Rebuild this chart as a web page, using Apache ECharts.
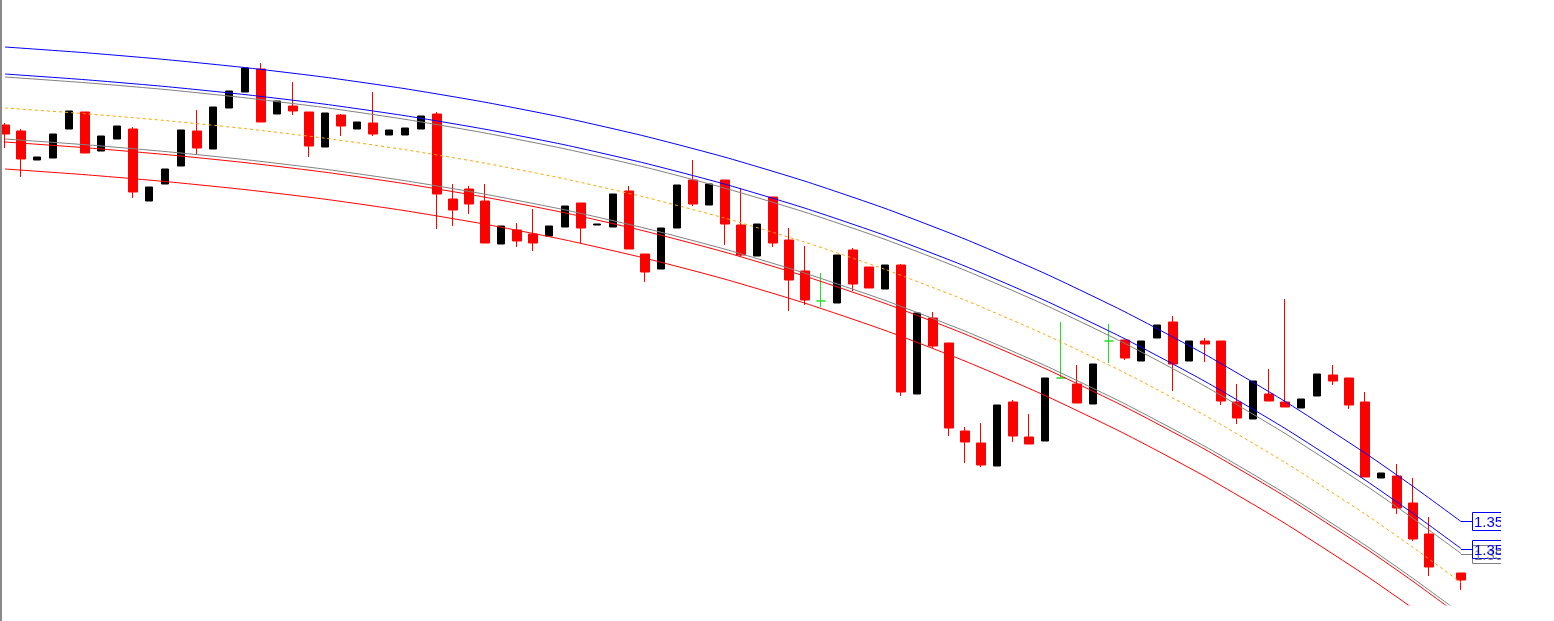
<!DOCTYPE html>
<html><head><meta charset="utf-8">
<script src="https://cdn.jsdelivr.net/npm/echarts@6/dist/echarts.min.js"></script>
<style>html,body{margin:0;padding:0;background:#fff}#c{width:1554px;height:621px}</style>
</head><body><div id="c"></div><script>
// Candle values (bar index 90 has no bar)
const opens = [1.3946,1.3940,1.3911,1.3913,1.3942,1.3959,1.3920,1.3932,1.3942,1.3870,
1.3887,1.3905,1.3940,1.3922,1.3963,1.3979,1.4002,1.3957,1.3965,1.3959,
1.3924,1.3956,1.3942,1.3948,1.3936,1.3936,1.3942,1.3957,1.3872,1.3882,
1.3870,1.3827,1.3841,1.3837,1.3835,1.3844,1.3868,1.3846,1.3844,1.3880,
1.3817,1.3802,1.3843,1.3891,1.3866,1.3891,1.3846,1.3815,1.3874,1.3831,
1.3800,1.3770,1.3768,1.3821,1.3804,1.3782,1.3806,1.3677,1.3753,1.3728,
1.3640,1.3628,1.3605,1.3669,1.3634,1.3630,1.3693,1.3687,1.3667,1.3730,
1.3731,1.3710,1.3733,1.3749,1.3710,1.3730,1.3730,1.3669,1.3652,1.3677,
1.3669,1.3663,1.3675,1.3696,1.3693,1.3669,1.3593,1.3595,1.3568,1.3537,
null,1.3498];
const closes = [1.3937,1.3912,1.3914,1.3937,1.3960,1.3918,1.3935,1.3945,1.3879,1.3884,
1.3902,1.3941,1.3923,1.3964,1.3980,1.4003,1.3949,1.3970,1.3960,1.3925,
1.3958,1.3945,1.3949,1.3937,1.3941,1.3943,1.3955,1.3877,1.3861,1.3867,
1.3828,1.3845,1.3830,1.3828,1.3845,1.3865,1.3843,1.3847,1.3877,1.3822,
1.3799,1.3843,1.3886,1.3867,1.3887,1.3847,1.3816,1.3847,1.3828,1.3791,
1.3771,1.3770,1.3816,1.3787,1.3783,1.3806,1.3679,1.3758,1.3725,1.3643,
1.3629,1.3606,1.3666,1.3635,1.3627,1.3693,1.3693,1.3668,1.3707,1.3730,
1.3713,1.3730,1.3746,1.3707,1.3730,1.3727,1.3670,1.3653,1.3690,1.3670,
1.3664,1.3672,1.3697,1.3690,1.3666,1.3594,1.3598,1.3563,1.3532,1.3504,
null,1.3491];
const lows = [1.3923,1.3894,1.3911,1.3913,1.3942,1.3918,1.3920,1.3932,1.3873,1.3870,
1.3887,1.3905,1.3917,1.3922,1.3963,1.3979,1.3949,1.3957,1.3956,1.3914,
1.3924,1.3935,1.3942,1.3935,1.3936,1.3936,1.3942,1.3842,1.3845,1.3857,
1.3828,1.3827,1.3824,1.3820,1.3835,1.3844,1.3828,1.3846,1.3844,1.3822,
1.3789,1.3802,1.3843,1.3865,1.3866,1.3826,1.3814,1.3815,1.3824,1.3760,
1.3766,1.3764,1.3768,1.3780,1.3783,1.3782,1.3675,1.3677,1.3723,1.3635,
1.3608,1.3604,1.3605,1.3629,1.3627,1.3630,1.3693,1.3668,1.3667,1.3708,
1.3711,1.3710,1.3733,1.3680,1.3710,1.3709,1.3666,1.3647,1.3652,1.3670,
1.3664,1.3663,1.3675,1.3686,1.3662,1.3594,1.3593,1.3557,1.3530,1.3495,
null,1.3481];
const highs = [1.3948,1.3942,1.3914,1.3937,1.3960,1.3959,1.3935,1.3945,1.3944,1.3884,
1.3902,1.3941,1.3961,1.3964,1.3980,1.4003,1.4008,1.3970,1.3989,1.3959,
1.3958,1.3957,1.3949,1.3979,1.3941,1.3943,1.3955,1.3959,1.3887,1.3885,
1.3887,1.3845,1.3848,1.3862,1.3845,1.3865,1.3868,1.3847,1.3877,1.3885,
1.3817,1.3843,1.3886,1.3911,1.3887,1.3891,1.3883,1.3847,1.3874,1.3843,
1.3825,1.3798,1.3816,1.3823,1.3804,1.3806,1.3807,1.3758,1.3759,1.3728,
1.3644,1.3648,1.3666,1.3671,1.3657,1.3693,1.3749,1.3706,1.3707,1.3747,
1.3731,1.3730,1.3746,1.3755,1.3730,1.3733,1.3730,1.3687,1.3690,1.3702,
1.3772,1.3672,1.3697,1.3706,1.3693,1.3679,1.3598,1.3607,1.3593,1.3554,
null,1.3498];

// Channel lines, read at these bar indices
const lineIdx = [0,5,10,15,20,25,30,35,40,45,50,55,60,65,70,75,80,85,88,91];
const upperOuter = [1.40240,1.40183,1.40115,1.40034,1.39938,1.39823,1.39688,1.39531,1.39348,1.39138,1.38898,1.38626,1.38319,1.37975,1.37591,1.37166,1.36696,1.36180,1.35846,1.35495];
const upperInner = [1.39970,1.39913,1.39845,1.39764,1.39668,1.39553,1.39418,1.39261,1.39078,1.38868,1.38628,1.38356,1.38049,1.37705,1.37321,1.36896,1.36426,1.35910,1.35576,1.35225];
const upperGrey  = [1.39940,1.39883,1.39815,1.39732,1.39634,1.39517,1.39380,1.39221,1.39038,1.38828,1.38588,1.38316,1.38007,1.37661,1.37275,1.36848,1.36376,1.35860,1.35526,1.35175];
const middle     = [1.39630,1.39573,1.39505,1.39424,1.39328,1.39213,1.39078,1.38921,1.38738,1.38528,1.38288,1.38016,1.37709,1.37365,1.36981,1.36556,1.36086,1.35570,1.35236,1.34885];
const lowerGrey  = [1.39320,1.39263,1.39195,1.39114,1.39018,1.38903,1.38768,1.38611,1.38428,1.38218,1.37978,1.37706,1.37399,1.37055,1.36671,1.36246,1.35776,1.35260,1.34926,1.34575];
const lowerInner = [1.39290,1.39233,1.39165,1.39084,1.38988,1.38873,1.38738,1.38581,1.38398,1.38188,1.37948,1.37676,1.37369,1.37025,1.36641,1.36216,1.35746,1.35230,1.34896,1.34545];
const lowerOuter = [1.39020,1.38963,1.38895,1.38814,1.38718,1.38603,1.38468,1.38311,1.38128,1.37918,1.37678,1.37406,1.37099,1.36755,1.36371,1.35946,1.35476,1.34960,1.34626,1.34275];

const bull = [], bear = [], doji = [];
for (let i = 0; i < opens.length; i++) {
  if (opens[i] == null) continue;
  const item = [i, opens[i], closes[i], lows[i], highs[i]];
  if (closes[i] > opens[i]) bull.push(item);
  else if (closes[i] < opens[i]) bear.push(item);
  else doji.push(item);
}
const pts = arr => lineIdx.map((x, k) => [x, arr[k]]);

function candle(name, data, col, w) {
  return {
    name, type: 'candlestick', data, barWidth: w, z: 2, silent: true, clip: true,
    itemStyle: { color: col, color0: col, borderColor: col, borderColor0: col, borderColorDoji: col, borderWidth: 1 }
  };
}
function line(name, arr, col, type) {
  return {
    name, type: 'line', data: pts(arr), symbol: 'none', smooth: 0.2, z: 5, silent: true,
    lineStyle: { color: col, width: 1, type: type || 'solid' }
  };
}

const chart = echarts.init(document.getElementById('c'), null, { renderer: 'canvas' });
chart.setOption({
  animation: false,
  backgroundColor: '#ffffff',
  grid: { left: 5, top: 0, right: 54, bottom: 16 },
  xAxis: { type: 'value', min: 0, max: 93.4375, show: false },
  yAxis: { type: 'value', min: 1.3466, max: 1.4071, show: false },
  series: [
    candle('bull', bull, '#000000', 8),
    candle('bear', bear, '#ff0000', 10),
    candle('doji', doji, '#22dd22', 10),
    line('upperOuter', upperOuter, '#0000ff'),
    line('upperInner', upperInner, '#0000ff'),
    line('upperGrey', upperGrey, '#808080'),
    line('middle', middle, '#ffa500', [3, 3]),
    line('lowerGrey', lowerGrey, '#808080'),
    line('lowerInner', lowerInner, '#ff0000'),
    line('lowerOuter', lowerOuter, '#ff0000')
  ]
});

const g = [{ type: 'rect', z: 100, shape: { x: 0, y: 0, width: 2, height: 621 }, style: { fill: '#8a8a8a' } }];
const labelled = [[upperGrey, '#808080'], [upperOuter, '#0000ff'], [upperInner, '#0000ff']];
labelled.forEach(([arr, col]) => {
  const v = arr[arr.length - 1];
  const p = chart.convertToPixel({ xAxisIndex: 0, yAxisIndex: 0 }, [lineIdx[lineIdx.length - 1], v]);
  const y = Math.round(p[1]) + 0.5;
  g.push({ type: 'line', z: 50, shape: { x1: p[0], y1: y, x2: p[0] + 11, y2: y }, style: { stroke: col, lineWidth: 1 } });
  g.push({ type: 'rect', z: 50, shape: { x: Math.round(p[0] + 11) + 0.5, y: y - 9, width: 40, height: 18 }, style: { fill: 'transparent', stroke: col, lineWidth: 1 } });
  g.push({ type: 'text', z: 51, x: Math.round(p[0] + 13), y: y + 1, style: { text: v.toFixed(4), fill: col, font: '15px "Liberation Sans", Arial, sans-serif', verticalAlign: 'middle' } });
});
g.push({ type: 'rect', z: 100, shape: { x: 1501, y: 0, width: 60, height: 621 }, style: { fill: '#ffffff' } });
chart.setOption({ graphic: g });
</script></body></html>
